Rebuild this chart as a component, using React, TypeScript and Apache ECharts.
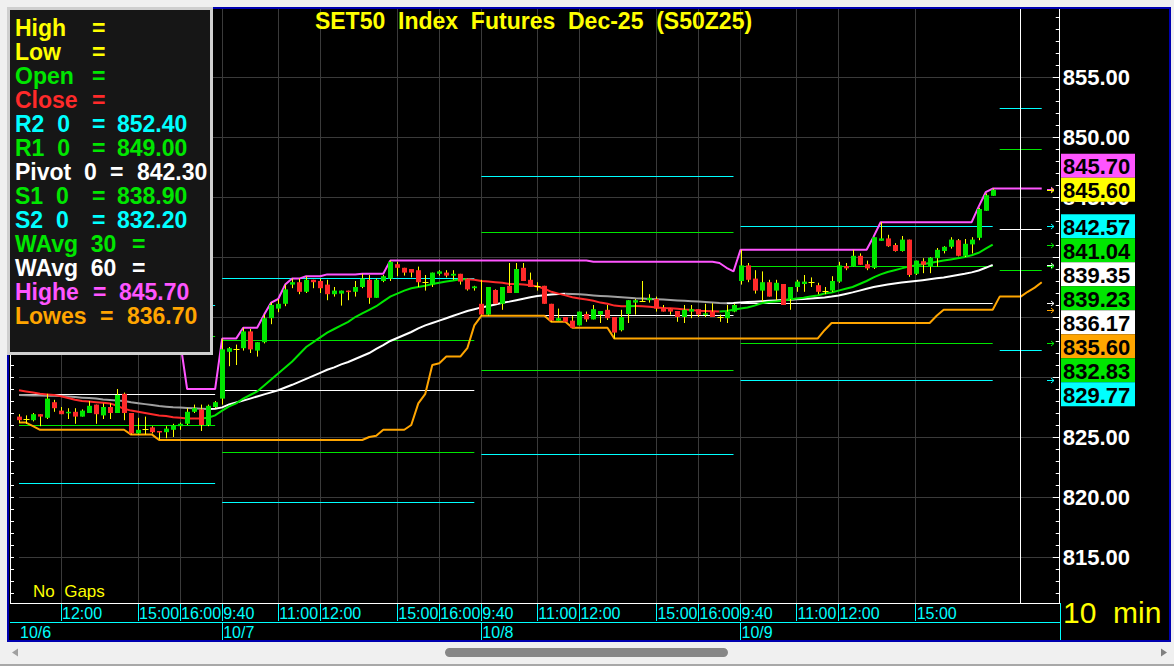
import React, { useEffect, useRef } from "react";
import * as echarts from "echarts";

// ---------------- DATA ----------------
const DAYS = ["10/6", "10/7", "10/8", "10/9"];
const DAY_TIMES = [
  "9:40", "9:50", "10:00", "10:10", "10:20", "10:30", "10:40", "10:50", "11:00", "11:10",
  "11:20", "11:30", "11:40", "11:50", "12:00", "12:10", "12:20", "12:30", "12:40", "14:00",
  "14:10", "14:20", "14:30", "14:40", "14:50", "15:00", "15:10", "15:20", "15:30", "15:40",
  "15:50", "16:00", "16:10", "16:20", "16:30", "16:40", "16:50",
];
const FIRST_VISIBLE_TIME = "11:00";
const FUTURE_SLOTS = 9;
const NEXT_DAY_SLOTS = 7;
const CURSOR_SLOT = 143;

const TIME_MARKS = [
  "10/6 12:00", "10/6 15:00", "10/6 16:00",
  "10/7 9:40", "10/7 11:00", "10/7 12:00", "10/7 15:00", "10/7 16:00",
  "10/8 9:40", "10/8 11:00", "10/8 12:00", "10/8 15:00", "10/8 16:00",
  "10/9 9:40", "10/9 11:00", "10/9 12:00", "10/9 15:00",
];
const DATE_MARKS = ["10/6 11:00", "10/7 9:40", "10/8 9:40", "10/9 9:40"];
const Y_LABELS = [815, 820, 825, 830, 835, 840, 845, 850, 855];

// [open, close, low, high]
const OHLC_10_6 = [
  [826.7, 826.4, 826.2, 826.9], [826.5, 826.5, 826.1, 826.8], [826.4, 826.9, 826.3, 827.0],
  [826.9, 826.7, 825.9, 826.9], [826.6, 828.2, 826.5, 828.6], [827.9, 827.4, 827.1, 828.1],
  [827.2, 826.9, 826.9, 827.5], [827.0, 827.1, 826.5, 827.4], [827.1, 826.7, 826.1, 827.4],
  [826.7, 827.2, 826.7, 827.3], [827.0, 827.6, 827.0, 828.0], [827.7, 826.9, 826.1, 827.7],
  [826.8, 827.5, 826.5, 827.8], [827.5, 827.0, 826.5, 827.8], [827.0, 828.5, 827.0, 829.0],
  [828.6, 827.0, 826.4, 828.7], [827.0, 825.3, 825.2, 827.0], [825.3, 825.6, 825.2, 826.6],
  [825.7, 825.7, 825.2, 826.7], [825.8, 825.4, 825.3, 825.9], [825.5, 825.4, 824.8, 825.5],
  [825.4, 825.7, 824.9, 825.9], [825.6, 826.0, 825.0, 826.1], [825.9, 826.1, 825.6, 826.2],
  [826.1, 827.1, 826.0, 827.4], [827.1, 827.4, 827.0, 827.7], [827.3, 826.0, 825.5, 827.7],
  [826.0, 827.6, 825.9, 827.7], [827.5, 827.9, 827.4, 828.0],
];
const OHLC_10_7 = [
  [828.2, 832.3, 827.7, 833.2], [832.1, 832.4, 830.9, 832.5], [832.3, 832.3, 831.0, 832.7],
  [832.4, 833.8, 832.2, 834.1], [833.8, 832.3, 832.0, 834.0], [832.2, 832.9, 831.7, 832.9],
  [832.9, 834.9, 832.8, 835.2], [834.9, 836.0, 834.4, 836.2], [835.7, 836.1, 835.4, 836.5],
  [836.1, 837.3, 835.9, 837.7], [837.7, 837.9, 837.4, 838.2], [837.9, 837.1, 836.9, 838.2],
  [837.1, 838.1, 837.0, 838.4], [838.1, 837.9, 837.4, 838.1], [838.0, 837.4, 837.0, 838.2],
  [837.7, 836.9, 836.4, 838.1], [836.9, 837.2, 836.7, 837.5], [836.95, 837.2, 835.95, 837.2],
  [837.2, 837.1, 836.4, 837.2], [837.1, 837.5, 836.7, 838.0], [837.5, 838.2, 837.4, 838.6],
  [838.1, 836.6, 836.1, 838.5], [836.6, 838.1, 836.6, 838.2], [838.0, 838.4, 837.9, 838.5],
  [838.2, 839.6, 838.0, 839.7], [839.4, 839.1, 838.4, 839.6], [839.1, 838.7, 838.45, 839.1],
  [839.0, 838.7, 838.3, 839.0], [838.9, 837.9, 837.5, 839.2], [837.9, 837.9, 837.2, 838.5],
  [837.7, 838.7, 837.5, 838.7], [838.6, 838.8, 838.45, 838.9], [838.7, 838.45, 838.3, 838.9],
  [838.45, 838.6, 838.1, 838.9], [838.6, 837.95, 837.7, 838.6], [838.2, 837.3, 837.2, 838.2],
  [837.4, 837.55, 837.2, 837.6],
];
const OHLC_10_8 = [
  [836.1, 835.2, 835.1, 838.1], [835.2, 837.5, 835.1, 837.5], [837.25, 836.1, 836.1, 837.3],
  [836.1, 837.5, 835.6, 837.5], [837.6, 837.0, 837.0, 839.5], [837.0, 839.0, 837.0, 839.5],
  [839.1, 838.0, 838.0, 839.5], [838.1, 837.5, 837.5, 838.7], [837.6, 837.6, 837.2, 837.9],
  [837.6, 836.1, 836.1, 837.6], [836.1, 834.7, 834.6, 836.1], [834.7, 834.9, 834.7, 835.7],
  [835.0, 834.6, 834.6, 835.0], [834.7, 834.1, 834.1, 835.1], [834.3, 835.45, 834.3, 835.45],
  [835.25, 834.8, 834.6, 835.45], [834.8, 835.65, 834.8, 836.0], [835.2, 835.5, 834.5, 835.5],
  [835.6, 834.9, 834.75, 836.0], [835.0, 833.7, 833.2, 835.0], [833.9, 835.0, 833.8, 835.6],
  [835.25, 836.4, 834.5, 836.4], [836.2, 836.4, 835.2, 836.5], [836.35, 836.35, 836.3, 838.0],
  [836.4, 836.6, 836.2, 836.9], [836.5, 835.7, 835.45, 836.7], [835.8, 835.45, 835.45, 836.0],
  [835.7, 835.45, 835.2, 835.7], [835.5, 835.0, 834.6, 835.5], [835.0, 835.6, 834.5, 836.0],
  [835.45, 835.65, 834.9, 836.0], [835.65, 835.2, 835.0, 835.65], [835.2, 835.3, 835.0, 836.1],
  [835.45, 835.0, 835.0, 836.15], [835.0, 835.0, 834.6, 835.2], [834.9, 835.45, 834.5, 836.0],
  [835.45, 836.0, 835.4, 836.1],
];
const OHLC_10_9 = [
  [838.0, 839.3, 837.7, 840.6], [839.3, 838.1, 837.9, 839.5], [838.2, 837.2, 836.95, 838.9],
  [837.2, 837.9, 836.3, 838.8], [837.9, 836.7, 836.7, 838.1], [837.2, 837.85, 836.4, 838.1],
  [837.75, 836.0, 836.0, 837.75], [836.5, 837.5, 835.6, 837.5], [837.5, 837.95, 837.1, 838.1],
  [837.75, 837.95, 837.1, 838.5], [837.9, 837.9, 837.5, 838.3], [837.65, 837.1, 836.9, 837.85],
  [837.2, 837.2, 836.9, 837.5], [837.2, 838.0, 837.1, 838.4], [837.95, 839.3, 837.85, 839.6],
  [839.25, 839.05, 838.9, 839.5], [839.2, 840.1, 839.2, 840.6], [840.1, 839.35, 839.35, 840.3],
  [839.4, 839.05, 838.9, 839.7], [839.1, 841.65, 839.0, 841.65], [841.35, 841.55, 841.35, 842.9],
  [841.55, 840.9, 840.85, 841.85], [841.0, 840.5, 840.45, 841.15], [840.5, 841.45, 840.45, 841.75],
  [841.45, 838.5, 838.35, 841.45], [838.6, 839.7, 838.5, 839.7], [839.65, 839.35, 838.65, 839.9],
  [839.2, 839.95, 838.65, 840.0], [839.9, 840.6, 839.2, 840.75], [840.5, 840.85, 840.3, 840.9],
  [840.85, 841.45, 840.7, 841.65], [841.4, 840.1, 840.05, 841.5], [840.1, 841.1, 840.0, 841.5],
  [841.05, 841.45, 840.3, 841.65], [841.6, 844.0, 841.4, 844.1], [843.85, 845.15, 843.85, 845.3],
  [845.1, 845.6, 845.1, 845.7],
];

const WAVG30 = [
  828.9, 828.8, 828.7, 828.6, 828.55, 828.5, 828.4, 828.25, 828.1, 828.0,
  827.95, 827.9, 827.85, 827.8, 827.6, 827.35, 827.2, 827.1, 827.0, 826.9,
  826.8, 826.75, 826.65, 826.6, 826.55, 826.55, 826.55, 826.6, 826.8, 827.2,
  827.55, 827.8, 828.2, 828.5, 828.8, 829.3, 829.8, 830.3, 830.8, 831.3,
  831.9, 832.5, 832.9, 833.3, 833.7, 834.0, 834.3, 834.6, 835.0, 835.3,
  835.6, 835.9, 836.3, 836.7, 836.95, 837.2, 837.4, 837.5, 837.6, 837.75,
  837.85, 837.95, 838.05, 838.15, 838.15, 838.1, 838.0, 837.95, 837.9, 837.85,
  837.75, 837.75, 837.7, 837.65, 837.55, 837.35, 837.1, 836.95, 836.8, 836.65,
  836.55, 836.45, 836.35, 836.2, 836.1, 835.95, 835.9, 835.9, 835.92, 835.9,
  835.85, 835.8, 835.75, 835.72, 835.68, 835.62, 835.58, 835.53, 835.5, 835.47,
  835.45, 835.5, 835.6, 835.7, 835.8, 835.95, 836.15, 836.25, 836.3, 836.35,
  836.45, 836.55, 836.6, 836.7, 836.8, 836.95, 837.05, 837.2, 837.35, 837.5,
  837.75, 838.0, 838.3, 838.55, 838.75, 838.9, 839.05, 839.2, 839.3, 839.4,
  839.5, 839.6, 839.7, 839.8, 839.9, 840.0, 840.15, 840.35, 840.7, 841.04,
];
const WAVG60 = [
  828.5, 828.48, 828.46, 828.45, 828.44, 828.43, 828.42, 828.38, 828.33, 828.28,
  828.24, 828.2, 828.12, 828.08, 828.05, 828.0, 827.9, 827.82, 827.74, 827.66,
  827.58, 827.53, 827.48, 827.45, 827.42, 827.39, 827.36, 827.33, 827.36, 827.47,
  827.72, 827.88, 828.03, 828.2, 828.38, 828.55, 828.72, 828.9, 829.12, 829.35,
  829.6, 829.85, 830.1, 830.35, 830.6, 830.8, 831.05, 831.25, 831.5, 831.75,
  832.0, 832.35, 832.65, 833.0, 833.25, 833.5, 833.75, 834.05, 834.3, 834.5,
  834.7, 834.9, 835.1, 835.3, 835.5, 835.65, 835.8, 835.92, 836.05, 836.18,
  836.28, 836.4, 836.52, 836.65, 836.75, 836.82, 836.88, 836.92, 836.93, 836.92,
  836.9, 836.85, 836.8, 836.76, 836.72, 836.68, 836.64, 836.6, 836.56, 836.54,
  836.51, 836.48, 836.45, 836.42, 836.38, 836.35, 836.32, 836.29, 836.25, 836.2,
  836.16, 836.14, 836.16, 836.2, 836.24, 836.28, 836.32, 836.35, 836.38, 836.41,
  836.44, 836.47, 836.5, 836.54, 836.58, 836.63, 836.7, 836.8, 836.92, 837.05,
  837.2, 837.35, 837.5, 837.6, 837.7, 837.8, 837.87, 837.94, 838.0, 838.07,
  838.14, 838.22, 838.3, 838.4, 838.5, 838.6, 838.72, 838.88, 839.1, 839.35,
];
const HIGHE = [
  833.0, 833.0, 833.0, 833.0, 833.0, 833.0, 833.0, 833.0, 833.0, 833.0,
  833.0, 833.0, 833.0, 833.0, 833.0, 833.0, 833.0, 833.0, 833.0, 833.0,
  833.0, 833.0, 833.0, 833.0, 829.0, 829.0, 829.0, 829.0, 829.0, 833.2,
  833.2, 833.2, 834.1, 834.1, 834.1, 835.2, 836.2, 836.5, 837.7, 838.2,
  838.2, 838.4, 838.4, 838.4, 838.55, 838.55, 838.55, 838.55, 838.55, 838.6,
  838.6, 838.6, 838.6, 839.7, 839.7, 839.7, 839.7, 839.7, 839.7, 839.7,
  839.7, 839.7, 839.7, 839.7, 839.7, 839.7, 839.7, 839.7, 839.7, 839.7,
  839.7, 839.7, 839.7, 839.7, 839.7, 839.7, 839.7, 839.7, 839.7, 839.7,
  839.7, 839.7, 839.6, 839.6, 839.6, 839.6, 839.6, 839.6, 839.6, 839.6,
  839.6, 839.6, 839.6, 839.6, 839.6, 839.6, 839.6, 839.6, 839.6, 839.6,
  839.5, 839.1, 838.8, 840.6, 840.6, 840.6, 840.6, 840.6, 840.6, 840.6,
  840.6, 840.6, 840.6, 840.6, 840.6, 840.6, 840.6, 840.6, 840.6, 840.6,
  840.6, 840.6, 841.7, 842.9, 842.9, 842.9, 842.9, 842.9, 842.9, 842.9,
  842.9, 842.9, 842.9, 842.9, 842.9, 842.9, 842.9, 844.2, 845.4, 845.7,
  845.7, 845.7, 845.7, 845.7, 845.7, 845.7, 845.7,
];
const LOWES = [
  826.2, 826.2, 825.9, 825.6, 825.6, 825.6, 825.6, 825.6, 825.6, 825.6,
  825.6, 825.6, 825.6, 825.6, 825.6, 825.6, 825.2, 825.2, 825.2, 825.2,
  824.75, 824.75, 824.75, 824.75, 824.75, 824.75, 824.75, 824.75, 824.75, 824.75,
  824.75, 824.75, 824.75, 824.75, 824.75, 824.75, 824.75, 824.75, 824.75, 824.75,
  824.75, 824.75, 824.75, 824.75, 824.75, 824.75, 824.75, 824.75, 824.75, 824.75,
  825.0, 825.1, 825.6, 825.6, 825.6, 825.6, 826.0, 827.8, 828.6, 831.0,
  831.15, 831.7, 831.7, 831.7, 832.4, 834.3, 835.1, 835.1, 835.1, 835.1,
  835.1, 835.1, 835.1, 835.1, 835.1, 835.1, 834.6, 834.6, 834.6, 834.1,
  834.1, 834.1, 834.1, 834.1, 834.1, 833.2, 833.2, 833.2, 833.2, 833.2,
  833.2, 833.2, 833.2, 833.2, 833.2, 833.2, 833.2, 833.2, 833.2, 833.2,
  833.2, 833.2, 833.2, 833.2, 833.2, 833.2, 833.2, 833.2, 833.2, 833.2,
  833.2, 833.2, 833.2, 833.2, 833.2, 833.9, 834.5, 834.5, 834.5, 834.5,
  834.5, 834.5, 834.5, 834.5, 834.5, 834.5, 834.5, 834.5, 834.5, 834.5,
  834.5, 835.1, 835.6, 835.6, 835.6, 835.6, 835.6, 835.6, 835.6, 835.6,
  836.7, 836.7, 836.7, 836.7, 837.1, 837.45, 837.9,
];

// Pivot levels: 10/6, 10/7, 10/8, 10/9, next session
const PIVOT_R2 = [836.0, 838.25, 846.7, 842.57, 852.4];
const PIVOT_R1 = [833.4, 833.08, 842.1, 839.23, 849.0];
const PIVOT_P = [828.58, 828.92, 835.17, 836.17, 842.3];
const PIVOT_S1 = [826.0, 823.75, 830.6, 832.83, 838.9];
const PIVOT_S2 = [821.17, 819.58, 823.6, 829.77, 832.2];

// ---------------- STYLE ----------------
const YELLOW = "#ffff00";
const GREEN = "#00e600";
const RED = "#ff2a2a";
const CYAN = "#00ffff";
const WHITE = "#ffffff";
const GRAY = "#a0a0a0";
const MAGENTA = "#ff55ff";
const ORANGE = "#ffa500";
const GRID_LINE = "#3a3a3a";
const FRAME = "#f0f0f0";
const BORDER_BLUE = "#0000b0";
const NB = "\u00A0";
const sp = (s: string) => s.replace(/ /g, NB);
const FONT = "'Liberation Sans', Arial, Helvetica, sans-serif";

const GRID_LEFT = 19;
const GRID_TOP = 9;
const SLOT_W = 7.005;
const Y_MAX = 855 + (77 - 9) / 12;
const Y_MIN = 855 - (603 - 77) / 12;
const BOX_H = 24;

// ---------------- DERIVED ----------------
const CATEGORIES: string[] = [];
DAYS.forEach((d, di) => {
  const start = di === 0 ? DAY_TIMES.indexOf(FIRST_VISIBLE_TIME) : 0;
  DAY_TIMES.slice(start).forEach((t) => CATEGORIES.push(`${d} ${t}`));
});
const BAR_COUNT = CATEGORIES.length;
for (let k = 1; k <= FUTURE_SLOTS; k++) CATEGORIES.push(`+${k}`);

const OHLC = [...OHLC_10_6, ...OHLC_10_7, ...OHLC_10_8, ...OHLC_10_9];
const CANDLE_DATA = OHLC.map((c, i) => [i, c[0], c[1], c[2], c[3]]);

const TIME_SET = new Set(TIME_MARKS.map((m) => CATEGORIES.indexOf(m)));
const DATE_LABEL_SET = new Set(DATE_MARKS.map((m) => CATEGORIES.indexOf(m)));
const DATE_TICK_SET = new Set(DATE_MARKS.slice(1).map((m) => CATEGORIES.indexOf(m)));

const SPANS: number[][] = DAYS.map((d) => {
  const idx = CATEGORIES.map((c, i) => (c.startsWith(d + " ") ? i : -1)).filter((i) => i >= 0);
  return [idx[0], idx[idx.length - 1]];
});
SPANS.push([BAR_COUNT, BAR_COUNT + NEXT_DAY_SLOTS - 1]);

const MINOR_TICKS: number[] = [];
for (let v = Math.ceil(Y_MIN); v <= Math.floor(Y_MAX); v++) MINOR_TICKS.push(v);

function pivotLines() {
  const out: any[] = [];
  const levels = [
    [PIVOT_R2, CYAN], [PIVOT_R1, GREEN], [PIVOT_P, WHITE], [PIVOT_S1, GREEN], [PIVOT_S2, CYAN],
  ] as const;
  SPANS.forEach((span, d) => {
    levels.forEach(([arr, color]) => {
      out.push({ coords: [[span[0], arr[d]], [span[1], arr[d]]], lineStyle: { color } });
    });
  });
  return out;
}

function slopeRuns(vals: number[], up: string, down: string) {
  const runs: any[] = [];
  let cur: any = null;
  let dir = "";
  for (let i = 1; i < vals.length; i++) {
    const d = vals[i] > vals[i - 1] ? "up" : vals[i] < vals[i - 1] ? "down" : dir || "up";
    if (d !== dir) {
      cur = { coords: [[i - 1, vals[i - 1]]], lineStyle: { color: d === "up" ? up : down } };
      runs.push(cur);
      dir = d;
    }
    cur.coords.push([i, vals[i]]);
  }
  return runs;
}

function buildOption(): any {
  const axisFont = { fontFamily: FONT, fontSize: 16, color: CYAN };
  return {
    animation: false,
    backgroundColor: "#000000",
    grid: { left: GRID_LEFT, top: GRID_TOP, width: SLOT_W * (CATEGORIES.length - 1), height: 594 },
    xAxis: [
      {
        type: "category",
        data: CATEGORIES,
        boundaryGap: false,
        position: "bottom",
        axisLine: { show: true, onZero: false, lineStyle: { color: WHITE, width: 1 } },
        axisTick: {
          show: true, alignWithLabel: true, length: 18,
          interval: (i: number) => TIME_SET.has(i),
          lineStyle: { color: CYAN, width: 1 },
        },
        axisLabel: {
          ...axisFont,
          interval: (i: number) => TIME_SET.has(i),
          formatter: (v: string) => v.split(" ")[1] || "",
          align: "left",
          verticalAlign: "top",
          margin: 2,
          padding: [0, 0, 0, 1],
          lineHeight: 17,
        },
        splitLine: {
          show: true,
          interval: (i: number) => TIME_SET.has(i),
          lineStyle: { color: GRID_LINE, width: 1 },
        },
      },
      {
        type: "category",
        data: CATEGORIES,
        boundaryGap: false,
        position: "bottom",
        offset: 19,
        axisLine: { show: true, onZero: false, lineStyle: { color: CYAN, width: 1 } },
        axisTick: {
          show: true, alignWithLabel: true, length: 18,
          interval: (i: number) => DATE_TICK_SET.has(i),
          lineStyle: { color: CYAN, width: 1 },
        },
        axisLabel: {
          ...axisFont,
          interval: (i: number) => DATE_LABEL_SET.has(i),
          formatter: (v: string) => v.split(" ")[0],
          align: "left",
          verticalAlign: "top",
          margin: 2,
          padding: [0, 0, 0, 1],
          lineHeight: 17,
        },
        splitLine: { show: false },
      },
    ],
    yAxis: [
      {
        type: "value",
        position: "right",
        offset: 4,
        min: Y_MIN,
        max: Y_MAX,
        axisLine: { show: true, onZero: false, lineStyle: { color: WHITE, width: 1 } },
        axisTick: { show: true, inside: true, length: 4, customValues: MINOR_TICKS, lineStyle: { color: WHITE } },
        axisLabel: {
          show: true,
          customValues: Y_LABELS,
          formatter: (v: number) => v.toFixed(2),
          color: WHITE,
          fontFamily: FONT,
          fontWeight: "bold",
          fontSize: 22,
          margin: 3,
        },
        splitLine: { show: false },
      },
      {
        type: "value",
        position: "right",
        offset: 4,
        min: Y_MIN,
        max: Y_MAX,
        axisLine: { show: false, onZero: false },
        axisTick: { show: true, inside: true, length: 7, customValues: Y_LABELS, lineStyle: { color: WHITE } },
        axisLabel: { show: false, customValues: Y_LABELS },
        splitLine: { show: true, lineStyle: { color: GRID_LINE, width: 1 } },
      },
      {
        type: "value",
        position: "left",
        offset: 9,
        min: Y_MIN,
        max: Y_MAX,
        axisLine: { show: true, onZero: false, lineStyle: { color: WHITE, width: 1 } },
        axisTick: { show: true, inside: true, length: 4, customValues: MINOR_TICKS, lineStyle: { color: WHITE } },
        axisLabel: { show: false, customValues: Y_LABELS },
        splitLine: { show: false },
      },
    ],
    series: [
      {
        name: "Pivots",
        type: "lines",
        coordinateSystem: "cartesian2d",
        xAxisIndex: 0,
        yAxisIndex: 0,
        silent: true,
        z: 1,
        lineStyle: { width: 1, opacity: 1 },
        data: pivotLines(),
      },
      {
        name: "WAvg 60",
        type: "lines",
        coordinateSystem: "cartesian2d",
        polyline: true,
        xAxisIndex: 0,
        yAxisIndex: 0,
        silent: true,
        z: 2,
        lineStyle: { width: 2, opacity: 1 },
        data: slopeRuns(WAVG60, WHITE, GRAY),
      },
      {
        name: "WAvg 30",
        type: "lines",
        coordinateSystem: "cartesian2d",
        polyline: true,
        xAxisIndex: 0,
        yAxisIndex: 0,
        silent: true,
        z: 2,
        lineStyle: { width: 2, opacity: 1 },
        data: slopeRuns(WAVG30, GREEN, RED),
      },
      {
        name: "Lowes",
        type: "line",
        data: LOWES,
        showSymbol: false,
        symbol: "none",
        silent: true,
        z: 3,
        lineStyle: { color: ORANGE, width: 2 },
      },
      {
        name: "Highe",
        type: "line",
        data: HIGHE,
        showSymbol: false,
        symbol: "none",
        silent: true,
        z: 3,
        lineStyle: { color: MAGENTA, width: 2 },
        markLine: {
          silent: true,
          symbol: ["none", "none"],
          label: { show: false },
          lineStyle: { color: WHITE, width: 1, type: "solid" },
          data: [{ xAxis: CATEGORIES[CURSOR_SLOT] }],
        },
      },
      {
        name: "S50Z25",
        type: "custom",
        data: CANDLE_DATA,
        encode: { x: 0, y: [1, 2, 3, 4] },
        silent: true,
        z: 5,
        renderItem: (params: any, api: any) => {
          const i = api.value(0);
          const o = api.value(1);
          const c = api.value(2);
          const l = api.value(3);
          const h = api.value(4);
          const cx = Math.round(api.coord([i, o])[0]);
          const yO = api.coord([i, o])[1];
          const yC = api.coord([i, c])[1];
          const yL = api.coord([i, l])[1];
          const yH = api.coord([i, h])[1];
          const children: any[] = [
            {
              type: "line",
              shape: { x1: cx + 0.5, y1: yH, x2: cx + 0.5, y2: yL },
              style: { stroke: YELLOW, lineWidth: 1 },
            },
          ];
          if (o === c) {
            const y = Math.round(yO) + 0.5;
            children.push({
              type: "line",
              shape: { x1: cx - 2.5, y1: y, x2: cx + 3.5, y2: y },
              style: { stroke: YELLOW, lineWidth: 1 },
            });
          } else {
            const top = Math.min(yO, yC);
            children.push({
              type: "rect",
              shape: { x: cx - 2, y: top, width: 5, height: Math.max(1.5, Math.abs(yO - yC)) },
              style: { fill: c > o ? GREEN : RED },
            });
          }
          return { type: "group", children };
        },
      },
    ],
  };
}

function txt(x: number, y: number, text: string, fill: string, font: string, align = "left", z = 110): any {
  return {
    type: "text",
    x,
    y,
    z,
    silent: true,
    style: { text, fill, font, align, verticalAlign: "middle", textAlign: align, textVerticalAlign: "middle" },
  };
}

function buildGraphics(chart: any): { els: any[]; labels: number[] } {
  const Z = 100;
  const els: any[] = [];
  const rect = (x: number, y: number, w: number, h: number, fill: string, z = Z, r = 0) => ({
    type: "rect", z, silent: true, shape: { x, y, width: w, height: h, r }, style: { fill },
  });
  const line = (x1: number, y1: number, x2: number, y2: number, stroke: string, w = 1, z = Z) => ({
    type: "line", z, silent: true, shape: { x1, y1, x2, y2 }, style: { stroke, lineWidth: w },
  });

  // outer window frame
  els.push(rect(0, 0, 1174, 7, FRAME));
  els.push(rect(0, 0, 7, 666, FRAME));
  els.push(rect(1171, 0, 3, 666, FRAME));
  els.push(rect(0, 642, 1174, 24, FRAME));
  els.push(rect(0, 664, 1174, 2, "#a8a8a8"));
  els.push({
    type: "rect", z: Z, silent: true,
    shape: { x: 8, y: 8, width: 1162, height: 633 },
    style: { fill: "none", stroke: BORDER_BLUE, lineWidth: 2 },
  });
  // scrollbar
  els.push(rect(445, 648, 283, 9, "#878787", Z, 4.5));
  els.push({ type: "polygon", z: Z, silent: true, shape: { points: [[12, 652.5], [18, 648.5], [18, 656.5]] }, style: { fill: "#a0a0a0" } });
  els.push({ type: "polygon", z: Z, silent: true, shape: { points: [[1167, 652.5], [1161, 648.5], [1161, 656.5]] }, style: { fill: "#808080" } });

  // axis band frame lines
  els.push(line(10, 603.5, 1060, 603.5, WHITE, 1, 20));
  els.push(line(10, 622.5, 1060, 622.5, CYAN, 1, 20));
  els.push(line(1060.5, 603, 1060.5, 641, CYAN, 1, 20));

  // title / notes
  els.push(txt(533.5, 21, sp("SET50  Index  Futures  Dec-25  (S50Z25)"), YELLOW, `bold 23px ${FONT}`, "center"));
  els.push(txt(33, 591, sp("No  Gaps"), YELLOW, `17px ${FONT}`));
  els.push(txt(1063, 612, sp("10  min"), YELLOW, `30px ${FONT}`));

  // legend box
  els.push({
    type: "rect", z: Z, silent: true,
    shape: { x: 8.5, y: 8.5, width: 203, height: 345 },
    style: { fill: "#161616", stroke: "#cfcfcf", lineWidth: 3 },
  });
  const rows = [
    ["High", YELLOW, 92, "", 0],
    ["Low", YELLOW, 92, "", 0],
    ["Open", GREEN, 92, "", 0],
    ["Close", RED, 92, "", 0],
    ["R2  0", CYAN, 92, PIVOT_R2[4].toFixed(2), 117],
    ["R1  0", GREEN, 92, PIVOT_R1[4].toFixed(2), 117],
    ["Pivot  0", WHITE, 110, PIVOT_P[4].toFixed(2), 137],
    ["S1  0", GREEN, 92, PIVOT_S1[4].toFixed(2), 117],
    ["S2  0", CYAN, 92, PIVOT_S2[4].toFixed(2), 117],
    ["WAvg  30", GREEN, 132, "", 0],
    ["WAvg  60", WHITE, 132, "", 0],
    ["Highe", MAGENTA, 93, HIGHE[CURSOR_SLOT].toFixed(2), 119],
    ["Lowes", ORANGE, 100, LOWES[CURSOR_SLOT].toFixed(2), 127],
  ] as any[];
  const lf = `bold 23px ${FONT}`;
  rows.forEach((r, k) => {
    const y = 27.5 + 24 * k;
    els.push(txt(15, y, sp(r[0]), r[1], lf));
    els.push(txt(r[2], y, "=", r[1], lf));
    if (r[3]) els.push(txt(r[4], y, r[3], r[1], lf));
  });

  // value boxes on the price scale
  const last = BAR_COUNT - 1;
  const items = [
    { v: HIGHE[last], c: MAGENTA },
    { v: OHLC[last][1], c: YELLOW, anchor: true },
    { v: PIVOT_R2[3], c: CYAN },
    { v: WAVG30[last], c: GREEN },
    { v: WAVG60[last], c: WHITE },
    { v: PIVOT_R1[3], c: GREEN },
    { v: PIVOT_P[3], c: WHITE },
    { v: LOWES[last], c: ORANGE },
    { v: PIVOT_S1[3], c: GREEN },
    { v: PIVOT_S2[3], c: CYAN },
  ].map((it: any) => ({ ...it, real: chart.convertToPixel({ yAxisIndex: 0 }, it.v) as number }));
  items.sort((a: any, b: any) => b.v - a.v);
  const ai = Math.max(0, items.findIndex((it: any) => it.anchor));
  items[ai].pos = items[ai].real;
  for (let j = ai - 1; j >= 0; j--) items[j].pos = Math.min(items[j].real, items[j + 1].pos - BOX_H);
  for (let j = ai + 1; j < items.length; j++) items[j].pos = Math.max(items[j].real, items[j - 1].pos + BOX_H);

  // merged vertical spans covered by the boxes
  const spans: number[][] = [];
  items.forEach((it: any) => {
    const top = it.pos - BOX_H / 2;
    const bot = it.pos + BOX_H / 2;
    const prev = spans[spans.length - 1];
    if (prev && top <= prev[1] + 0.5) prev[1] = Math.max(prev[1], bot);
    else spans.push([top, bot]);
  });
  const labels = Y_LABELS.filter((v) => {
    const y = chart.convertToPixel({ yAxisIndex: 0 }, v) as number;
    return !spans.some((s) => s[0] <= y - 6 && s[1] >= y + 6);
  });

  items.forEach((it: any) => {
    const ry = Math.round(it.real) + 0.5;
    els.push({
      type: "polyline", z: Z, silent: true,
      shape: { points: [[1047, ry], [1054, ry]] },
      style: { stroke: it.c, lineWidth: 1, fill: "none" },
    });
    els.push({
      type: "polyline", z: Z, silent: true,
      shape: { points: [[1051, ry - 2.5], [1054, ry], [1051, ry + 2.5]] },
      style: { stroke: it.c, lineWidth: 1, fill: "none" },
    });
    els.push(rect(1061, it.pos - BOX_H / 2, 74, BOX_H, it.c, Z + 1));
    els.push(txt(1063, it.pos + 1, it.v.toFixed(2), "#000000", `bold 22px ${FONT}`, "left", Z + 2));
  });
  return { els, labels };
}

export default function App() {
  const ref = useRef<HTMLDivElement>(null);
  useEffect(() => {
    if (!ref.current) return;
    const chart = echarts.init(ref.current, undefined, { renderer: "svg" });
    chart.setOption(buildOption());
    const g = buildGraphics(chart);
    chart.setOption({ graphic: g.els, yAxis: [{ axisLabel: { customValues: g.labels } }] });
    return () => chart.dispose();
  }, []);
  return (
    <div style={{ position: "fixed", left: 0, top: 0, width: 1174, height: 666, background: FRAME }}>
      <div ref={ref} style={{ width: 1174, height: 666 }} />
    </div>
  );
}
